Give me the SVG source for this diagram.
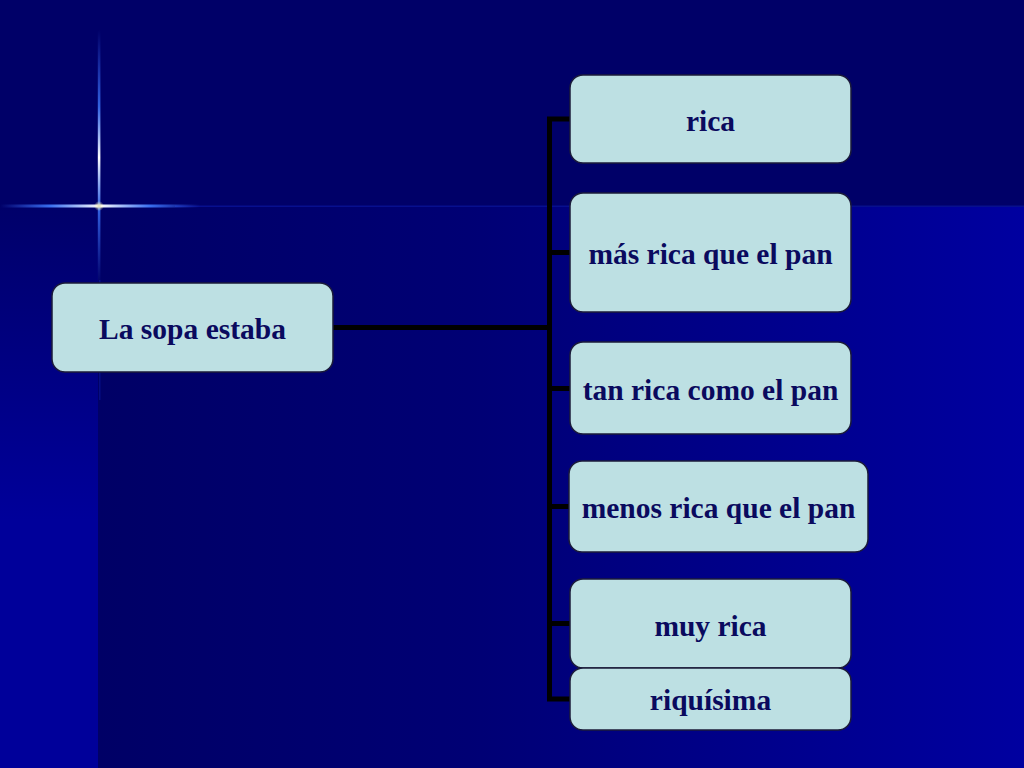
<svg xmlns="http://www.w3.org/2000/svg" width="1024" height="768" viewBox="0 0 1024 768">
<defs>
<linearGradient id="gLow" x1="98" y1="0" x2="1024" y2="0" gradientUnits="userSpaceOnUse">
<stop offset="0" stop-color="#000066"/>
<stop offset="0.4" stop-color="#000074"/>
<stop offset="1" stop-color="#0000a0"/>
</linearGradient>
<linearGradient id="gLeft" x1="0" y1="207" x2="0" y2="520" gradientUnits="userSpaceOnUse">
<stop offset="0" stop-color="#00006a"/>
<stop offset="1" stop-color="#00009a"/>
</linearGradient>
<linearGradient id="flareH" x1="0" y1="0" x2="1" y2="0">
<stop offset="0" stop-color="#3a6bff" stop-opacity="0"/>
<stop offset="0.25" stop-color="#3f7bff" stop-opacity="0.9"/>
<stop offset="0.5" stop-color="#ffffff"/>
<stop offset="0.75" stop-color="#3f7bff" stop-opacity="0.9"/>
<stop offset="1" stop-color="#3a6bff" stop-opacity="0"/>
</linearGradient>
<linearGradient id="flareV" x1="0" y1="0" x2="0" y2="1">
<stop offset="0" stop-color="#3a6bff" stop-opacity="0"/>
<stop offset="0.3" stop-color="#3f7bff" stop-opacity="0.8"/>
<stop offset="0.5" stop-color="#ffffff"/>
<stop offset="0.7" stop-color="#3f7bff" stop-opacity="0.8"/>
<stop offset="1" stop-color="#3a6bff" stop-opacity="0"/>
</linearGradient>
<radialGradient id="glow" cx="0.5" cy="0.5" r="0.5">
<stop offset="0" stop-color="#fff6c0"/>
<stop offset="1" stop-color="#fff6c0" stop-opacity="0"/>
</radialGradient>
</defs>
<style>
.box{fill:#bde0e3;stroke:#1b1b3a;stroke-width:1.5}
.lbl{font-weight:bold;font-size:29.5px;fill:#0a0a5e;text-anchor:middle}
.con{fill:none;stroke:#000000;stroke-width:5}
</style>
<g id="background">
<rect x="0" y="0" width="1024" height="768" fill="#000068"/>
<rect x="98" y="207" width="926" height="561" fill="url(#gLow)"/>
<rect x="0" y="207" width="98" height="561" fill="url(#gLeft)"/>
<rect x="175" y="205.5" width="849" height="1.5" fill="#1a3aff" opacity="0.25"/>
<rect x="99" y="280" width="1.5" height="120" fill="#1a3aff" opacity="0.2"/>
<rect x="0" y="204.5" width="200" height="3" fill="url(#flareH)"/>
<rect x="97.8" y="30" width="2.6" height="255" fill="url(#flareV)"/>
<circle cx="99" cy="206" r="5" fill="url(#glow)"/>
</g>
<g id="connectors">
<path class="con" d="M333 327.5 H549.5 M549.5 116.5 V701.5 M547 119 H570 M549.5 252.5 H570 M549.5 388.5 H570 M549.5 506.5 H570 M549.5 623.5 H570 M547 699 H570"/>
</g>
<g font-family="'Liberation Serif', 'Times New Roman', 'DejaVu Serif', serif">
<g id="n-root">
<rect class="box" x="52" y="283" width="281" height="89" rx="13"/>
<text class="lbl" x="192.5" y="338.5">La sopa estaba</text>
</g>
<g id="n-rica">
<rect class="box" x="570" y="75" width="281" height="88" rx="13"/>
<text class="lbl" x="710.5" y="130.5">rica</text>
</g>
<g id="n-mas">
<rect class="box" x="570" y="193" width="281" height="119" rx="13"/>
<text class="lbl" x="710.5" y="264">más rica que el pan</text>
</g>
<g id="n-tan">
<rect class="box" x="570" y="342" width="281" height="92" rx="13"/>
<text class="lbl" x="710.5" y="399.5">tan rica como el pan</text>
</g>
<g id="n-menos">
<rect class="box" x="569" y="461" width="299" height="91" rx="13"/>
<text class="lbl" x="718.5" y="518">menos rica que el pan</text>
</g>
<g id="n-muy">
<rect class="box" x="570" y="579" width="281" height="89" rx="13"/>
<text class="lbl" x="710.5" y="635.5">muy rica</text>
</g>
<g id="n-riq">
<rect class="box" x="570" y="668" width="281" height="62" rx="13"/>
<text class="lbl" x="710.5" y="710">riquísima</text>
</g>
</g>
</svg>
